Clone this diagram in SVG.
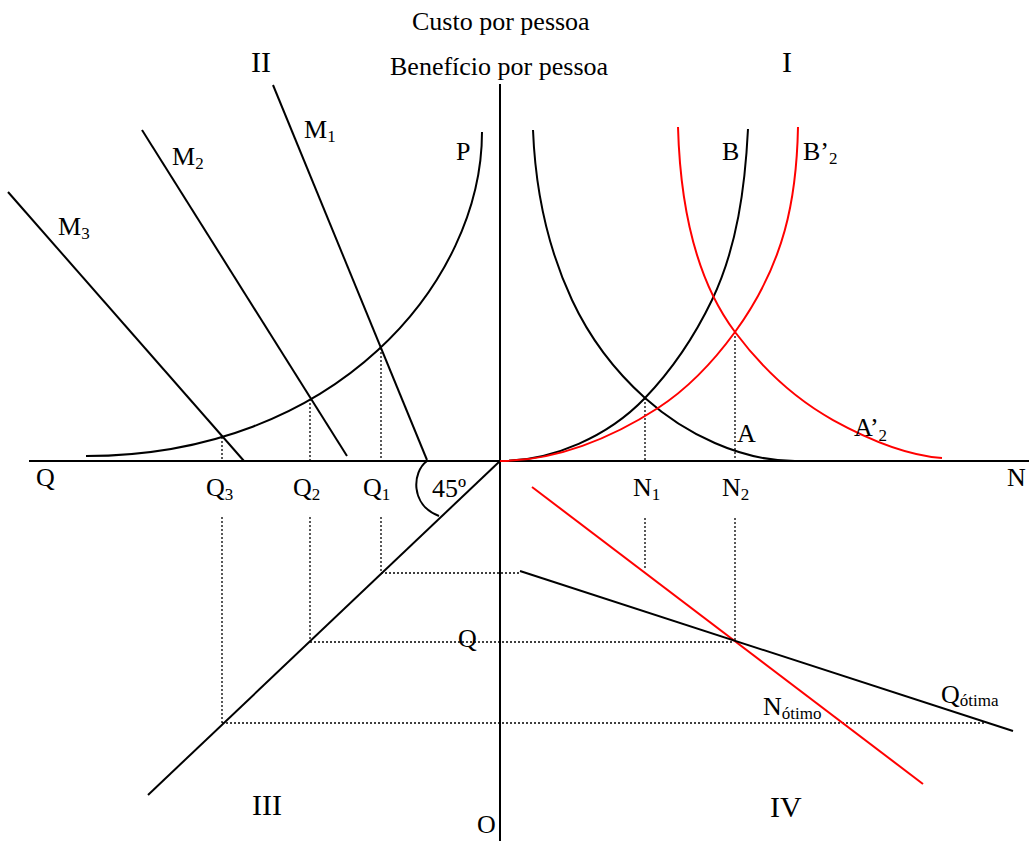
<svg xmlns="http://www.w3.org/2000/svg" width="1029" height="841" viewBox="0 0 1029 841">
<style>
text{font-family:"Liberation Serif","Times New Roman",serif;font-size:26px;fill:#000}
.rn{font-size:30px}
.sub{font-size:17px}
.k{fill:none;stroke:#000;stroke-width:2}
.r{fill:none;stroke:#f00;stroke-width:2}
.d{fill:none;stroke:#000;stroke-width:1.3;stroke-dasharray:2 2}
</style>
<rect width="1029" height="841" fill="#fff"/>
<g id="connectors">
<g id="axes">
<line class="k" x1="29" y1="461" x2="1029" y2="461"/>
<line class="k" x1="500" y1="84" x2="500" y2="841"/>
<line class="k" x1="500" y1="461" x2="148" y2="795"/>
</g>
<g id="dotted">
<line class="d" x1="381" y1="348" x2="381" y2="461"/>
<line class="d" x1="310" y1="399" x2="310" y2="461"/>
<line class="d" x1="222" y1="437" x2="222" y2="461"/>
<line class="d" x1="381" y1="517" x2="381" y2="573"/>
<line class="d" x1="310" y1="517" x2="310" y2="642"/>
<line class="d" x1="222" y1="517" x2="222" y2="723"/>
<line class="d" x1="381" y1="573" x2="520" y2="573"/>
<line class="d" x1="310" y1="642" x2="733" y2="642"/>
<line class="d" x1="222" y1="723" x2="985" y2="723"/>
<line class="d" x1="645" y1="398" x2="645" y2="461"/>
<line class="d" x1="735" y1="332" x2="735" y2="461"/>
<line class="d" x1="645" y1="518" x2="645" y2="570"/>
<line class="d" x1="735" y1="518" x2="735" y2="642"/>
</g>
<path id="arc45" class="k" d="M427 461 C412 472 410 505 439 516"/>
</g>
<g id="M1"><line class="k" x1="273" y1="85" x2="427" y2="460"/><text x="304" y="138">M<tspan class="sub" dy="4">1</tspan></text></g>
<g id="M2"><line class="k" x1="142" y1="130" x2="347" y2="456"/><text x="172" y="165">M<tspan class="sub" dy="4">2</tspan></text></g>
<g id="M3"><line class="k" x1="8" y1="192" x2="244" y2="461"/><text x="58" y="235">M<tspan class="sub" dy="4">3</tspan></text></g>
<g id="P"><path class="k" d="M86 456 C336 456 482 282 482 132"/><text x="456" y="160">P</text></g>
<g id="A"><path class="k" d="M533 130 C535.3 188 547.5 247.5 572 300 C589.3 337.1 614.5 370.6 645 398 C685.1 434.1 741 461 795 461"/><text x="737" y="442">A</text></g>
<g id="B"><path class="k" d="M500 461 C553 461 608.4 436.2 645 398 C672.6 369.2 694.7 336 712 300 C737.1 247.7 745.1 187 748 129"/><text x="722" y="160">B</text></g>
<g id="B2"><path class="r" d="M500 461 C555.6 461 611.4 438.3 658 408 C688.2 388.4 713.8 361.1 735 332 C785 263.3 796.6 198.5 798 127"/><text x="803" y="160">B’<tspan class="sub" dy="4">2</tspan></text></g>
<g id="A2"><path class="r" d="M678 127 C680 198 692.4 275.2 735 332 C761.4 367.2 794.5 398.7 833 420 C866.7 438.6 903.6 455 942 458"/><text x="854" y="436">A’<tspan class="sub" dy="5">2</tspan></text></g>
<g id="Nopt"><line class="r" x1="532" y1="487" x2="923" y2="784"/><text x="763" y="715">N<tspan class="sub" dy="4">ótimo</tspan></text></g>
<g id="Qopt"><line class="k" x1="520" y1="571" x2="1013" y2="731"/><text x="941" y="703">Q<tspan class="sub" dy="3">ótima</tspan></text></g>
<g id="labels">
<text x="412" y="30">Custo por pessoa</text>
<text x="390" y="75">Benefício por pessoa</text>
<text class="rn" x="251" y="72">II</text>
<text class="rn" x="782" y="72">I</text>
<text class="rn" x="252" y="815">III</text>
<text class="rn" x="770" y="817">IV</text>
<text x="36" y="486">Q</text>
<text x="206" y="496">Q<tspan class="sub" dy="4">3</tspan></text>
<text x="293" y="496">Q<tspan class="sub" dy="4">2</tspan></text>
<text x="363" y="496">Q<tspan class="sub" dy="4">1</tspan></text>
<text x="432" y="497">45º</text>
<text x="633" y="496">N<tspan class="sub" dy="4">1</tspan></text>
<text x="722" y="496">N<tspan class="sub" dy="4">2</tspan></text>
<text x="1007" y="486">N</text>
<text x="458" y="647">Q</text>
<text x="477" y="833">O</text>
</g>
</svg>
